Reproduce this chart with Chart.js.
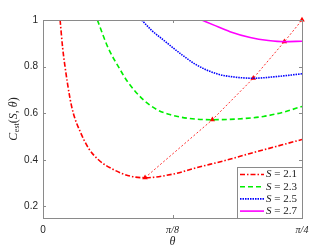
<!DOCTYPE html>
<html>
<head>
<meta charset="utf-8">
<script src="https://cdn.jsdelivr.net/npm/chart.js@4.4.0/dist/chart.umd.min.js"></script>
<style>html,body{margin:0;padding:0;background:#fff}</style>
</head>
<body>
<canvas id="chart" width="333" height="250"></canvas>
<script>
// theta values are given as a fraction of pi/4
var QUARTER = Math.PI / 4;

var thetaS21 = [0.066, 0.076, 0.085, 0.104, 0.117, 0.143, 0.175, 0.214, 0.272, 0.336, 0.394, 0.50, 0.593, 0.70, 0.80, 0.90, 1.0];
var costS21  = [1.0, 0.879, 0.80, 0.665, 0.60, 0.522, 0.451, 0.40, 0.358, 0.33, 0.323, 0.338, 0.366, 0.396, 0.427, 0.457, 0.487];

var thetaS23 = [0.21, 0.252, 0.291, 0.326, 0.387, 0.44, 0.49, 0.56, 0.654, 0.75, 0.851, 0.93, 1.0];
var costS23  = [1.0, 0.879, 0.80, 0.736, 0.658, 0.615, 0.594, 0.578, 0.572, 0.575, 0.586, 0.605, 0.629];

var thetaS25 = [0.381, 0.42, 0.465, 0.529, 0.593, 0.671, 0.74, 0.812, 0.9, 1.0];
var costS25  = [1.0, 0.955, 0.914, 0.857, 0.807, 0.769, 0.755, 0.75, 0.757, 0.769];

var thetaS27 = [0.613, 0.66, 0.722, 0.80, 0.87, 0.932, 1.0];
var costS27  = [1.0, 0.978, 0.95, 0.925, 0.912, 0.907, 0.909];

// minimum of each curve
var thetaMin = [0.394, 0.654, 0.812, 0.932, 1.0];
var costMin  = [0.323, 0.572, 0.75, 0.907, 1.0];

var legendLabels = ['2.1', '2.3', '2.5', '2.7'];
var xTickValues = [0, 0.5, 1];
var xTickLabels = ['0', 'π/8', 'π/4'];
var yTickValues = [0.2, 0.4, 0.6, 0.8, 1];
var yTickLabels = ['0.2', '0.4', '0.6', '0.8', '1'];

function pts(th, c) {
  return th.map(function(t, i) { return {x: t * QUARTER, y: c[i]}; });
}

function curve(th, c, color, dash) {
  return {
    data: pts(th, c),
    borderColor: color,
    backgroundColor: color,
    borderWidth: 1.6,
    borderDash: dash,
    pointRadius: 0,
    cubicInterpolationMode: 'monotone',
    fill: false
  };
}

var SERIF = '"Liberation Serif", "DejaVu Serif", serif';
var SANS = '"Liberation Sans", Arial, sans-serif';

// box around the plot with inward tick marks, legend and axis titles
var framePlugin = {
  id: 'frame',
  afterDatasetsDraw: function(chart) {
    var a = chart.chartArea, ctx = chart.ctx;
    var xs = chart.scales.x, ys = chart.scales.y;
    ctx.save();
    ctx.strokeStyle = '#8a8a8a';
    ctx.lineWidth = 1;
    ctx.strokeRect(Math.round(a.left) + 0.5, Math.round(a.top) + 0.5,
      Math.round(a.right - a.left), Math.round(a.bottom - a.top));
    ctx.beginPath();
    xTickValues.forEach(function(v) {
      var px = Math.round(xs.getPixelForValue(v * QUARTER)) + 0.5;
      ctx.moveTo(px, a.bottom); ctx.lineTo(px, a.bottom - 3);
      ctx.moveTo(px, a.top); ctx.lineTo(px, a.top + 3);
    });
    yTickValues.forEach(function(v) {
      var py = Math.round(ys.getPixelForValue(v)) + 0.5;
      ctx.moveTo(a.left, py); ctx.lineTo(a.left + 3, py);
      ctx.moveTo(a.right, py); ctx.lineTo(a.right - 3, py);
    });
    ctx.stroke();
    ctx.restore();
  },
  afterDraw: function(chart) {
    var ctx = chart.ctx, a = chart.chartArea;
    var ds = chart.data.datasets;
    ctx.save();
    // legend
    var bx = 237, by = 167, bw = 65, bh = 51;
    ctx.fillStyle = '#fff';
    ctx.fillRect(bx, by, bw, bh);
    ctx.strokeStyle = '#8a8a8a';
    ctx.lineWidth = 1;
    ctx.strokeRect(bx + 0.5, by + 0.5, bw, bh);
    for (var i = 0; i < legendLabels.length; i++) {
      var d = ds[i];
      var y = by + 7.5 + i * 12.2;
      ctx.beginPath();
      ctx.setLineDash(d.borderDash || []);
      ctx.strokeStyle = d.borderColor;
      ctx.lineWidth = 1.6;
      ctx.moveTo(bx + 3, y); ctx.lineTo(bx + 27, y);
      ctx.stroke();
      ctx.setLineDash([]);
      ctx.fillStyle = '#1a1a1a';
      ctx.textBaseline = 'middle';
      ctx.textAlign = 'left';
      ctx.font = 'italic 11px ' + SERIF;
      ctx.fillText('S', bx + 29, y);
      var w = ctx.measureText('S').width;
      ctx.font = '11px ' + SERIF;
      ctx.fillText(' = ' + legendLabels[i], bx + 29 + w, y);
    }
    // x title
    ctx.fillStyle = '#262626';
    ctx.textAlign = 'center';
    ctx.textBaseline = 'middle';
    ctx.font = 'italic 12px ' + SERIF;
    ctx.fillText('θ', (a.left + a.right) / 2, 242);
    // y title with subscript
    var parts = [
      {t: 'C', f: 'italic 12px ' + SERIF, dy: 0},
      {t: 'est', f: '8px ' + SERIF, dy: 3},
      {t: '(', f: '12px ' + SERIF, dy: 0},
      {t: 'S', f: 'italic 12px ' + SERIF, dy: 0},
      {t: ', ', f: '12px ' + SERIF, dy: 0},
      {t: 'θ', f: 'italic 12px ' + SERIF, dy: 0},
      {t: ')', f: '12px ' + SERIF, dy: 0}
    ];
    var total = 0;
    parts.forEach(function(p) { ctx.font = p.f; p.w = ctx.measureText(p.t).width + (p.t === 'C' ? 0.5 : 0); total += p.w; });
    ctx.translate(14, (a.top + a.bottom) / 2);
    ctx.rotate(-Math.PI / 2);
    ctx.textAlign = 'left';
    var cx = -total / 2;
    parts.forEach(function(p) {
      ctx.font = p.f;
      ctx.fillText(p.t, cx, p.dy);
      cx += p.w;
    });
    ctx.restore();
  }
};

new Chart(document.getElementById('chart'), {
  type: 'line',
  data: {
    datasets: [
      curve(thetaS21, costS21, '#ff0000', [5, 2, 1.5, 2]),
      curve(thetaS23, costS23, '#00ee00', [5, 3]),
      curve(thetaS25, costS25, '#0000ff', [1.5, 1]),
      curve(thetaS27, costS27, '#ff00ff', []),
      {
        data: pts(thetaMin, costMin),
        borderColor: '#ff3030',
        backgroundColor: '#ff0000',
        borderWidth: 1,
        borderDash: [2, 2],
        pointStyle: 'triangle',
        pointRadius: 3.2,
        pointBorderWidth: 0,
        tension: 0,
        fill: false,
        clip: 6
      }
    ]
  },
  options: {
    responsive: false,
    animation: false,
    devicePixelRatio: 1,
    layout: {padding: {top: 20, right: 31, left: 0, bottom: 0}},
    plugins: {legend: {display: false}, tooltip: {enabled: false}},
    scales: {
      x: {
        type: 'linear',
        min: 0,
        max: QUARTER,
        grid: {display: false, drawTicks: false},
        border: {display: false},
        afterFit: function(s) { s.height = 32; },
        afterBuildTicks: function(s) {
          s.ticks = xTickValues.map(function(v) { return {value: v * QUARTER}; });
        },
        ticks: {
          padding: 6,
          color: '#262626',
          maxRotation: 0,
          autoSkip: false,
          font: function(c) {
            return c.index === 0 ? {family: SANS, size: 10} : {family: SERIF, size: 10, style: 'italic'};
          },
          callback: function(v, i) { return xTickLabels[i]; }
        }
      },
      y: {
        min: 0.15,
        max: 1,
        grid: {display: false, drawTicks: false},
        border: {display: false},
        afterFit: function(s) { s.width = 43; },
        afterBuildTicks: function(s) {
          s.ticks = yTickValues.map(function(v) { return {value: v}; });
        },
        ticks: {
          padding: 5,
          color: '#262626',
          font: {family: SANS, size: 10},
          callback: function(v, i) { return yTickLabels[i]; }
        }
      }
    }
  },
  plugins: [framePlugin]
});
</script>
</body>
</html>
